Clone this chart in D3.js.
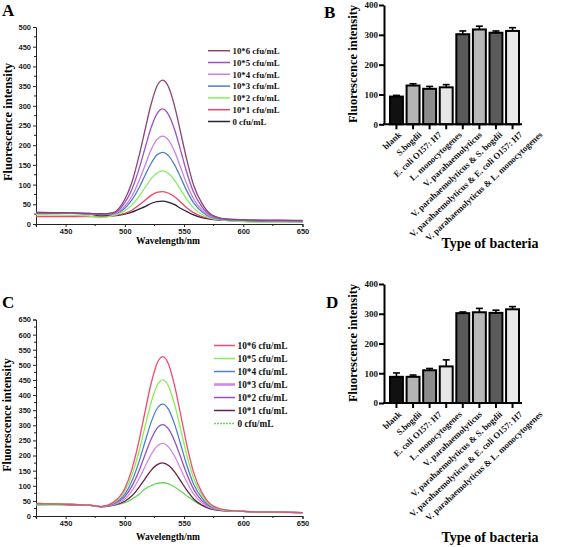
<!DOCTYPE html>
<html><head><meta charset="utf-8">
<script src="https://cdn.jsdelivr.net/npm/d3@7"></script>
<style>body{margin:0;background:#fff} svg{display:block}</style>
</head><body>
<svg id="c" width="567" height="547"></svg>
<script>
// ---------- data: spectra ----------
const wavelengths = [425,440,455,470,480,490,500,506,512,517,522,527,532,537,542,547,552,558,565,573,585,600,615,630,650];

const spectraLabels = ["10*6 cfu/mL","10*5 cfu/mL","10*4 cfu/mL","10*3 cfu/mL","10*2 cfu/mL","10*1 cfu/mL","0 cfu/mL"];

// Panel A
const a_e6 = [29,29,28,27,26,29,63,106,173,238,302,349,365,347,299,234,167,99,53,24,13,11,10,10,9];
const a_e5 = [30,29,28,27,25,27,54,88,140,192,243,279,292,277,240,188,134,81,44,21,12,10,9,9,8];
const a_e4 = [28,28,27,26,24,26,45,71,110,148,187,214,223,212,184,144,104,64,36,18,12,10,9,8,8];
const a_e3 = [27,28,27,26,23,25,40,61,92,123,153,175,182,173,150,119,86,54,31,17,11,9,8,8,7];
const a_e2 = [24,23,22,20,16,21,34,48,70,92,114,129,135,128,111,88,64,41,24,14,9,6,5,5,5];
const a_e1 = [19,19,19,19,18,21,27,35,48,60,72,80,82,78,69,56,42,29,19,13,10,9,8,8,7];
const a_e0 = [26,27,27,25,21,21,25,30,38,44,52,57,58,55,49,40,32,23,16,12,9,7,6,6,5];

// Panel C
const c_e6 = [41,40,38,36,31,45,91,155,249,344,435,503,527,501,431,338,241,145,78,37,20,15,13,13,11];
const c_e5 = [40,40,38,36,31,43,82,136,215,295,373,430,450,428,369,289,207,126,69,34,19,15,13,13,11];
const c_e4 = [39,39,37,35,30,40,72,116,180,245,308,354,370,352,304,239,172,106,60,31,19,15,13,13,11];
const c_e3 = [39,40,38,36,31,37,56,83,123,163,202,230,240,228,198,157,115,73,44,26,18,15,13,13,11];
const c_e2 = [40,41,38,36,31,39,64,99,150,202,252,289,302,287,248,196,142,89,51,28,18,15,13,13,11];
const c_e1 = [42,40,38,36,31,35,49,67,95,123,150,169,176,167,146,117,87,57,36,23,17,15,13,13,11];
const c_e0 = [36,37,36,35,31,35,44,56,72,89,100,108,110,106,96,83,68,51,36,24,17,15,13,13,11];

const spectraXTicks = [450,500,550,600,650];
const aYTicks = [0,50,100,150,200,250,300,350,400,450,500];
const cYTicks = [0,50,100,150,200,250,300,350,400,450,500,550,600,650];

// ---------- data: bars ----------
const categories = ["blank","S.bogdii","E. coli O157: H7","L. monocytogenes","V. parahaemolyticus",
  "V. parahaemolyticus & S. bogdii","V. parahaemolyticus & E. coli O157: H7","V. parahaemolyticus & L. monocytogenes"];
const b_values = [93,130,119,124,302,318,307,313];
const b_errors = [4,6,8,9,11,11,6,11];
const d_values = [88,88,110,123,302,305,303,315];
const d_errors = [13,6,6,22,4,13,9,9];
const barYTicks = [0,100,200,300,400];

// ---------- styles ----------
const aColors = ["#8a4470","#9a52c4","#c880e0","#4d7fc6","#84f060","#ee4468","#23233f"];
const cColors = ["#f04c72","#86f052","#5080cc","#cf8ce2","#9252c2","#6a2048","#66d855"];
const barFills = ["#111111","#b4b4b4","#8c8c8c","#e6e6e6","#595959","#b8b8b8","#5a5a5a","#e9e9e9"];

const SERIF = "'Liberation Serif','Times New Roman',serif";
const SANS = "'Liberation Sans',Arial,sans-serif";
const svg = d3.select("#c");

function panelLetter(t, x, y) {
  svg.append("text").attr("x", x).attr("y", y).text(t)
    .attr("font-family", SERIF).attr("font-weight", "bold").attr("font-size", 17);
}

function drawSpectrum(o) {
  const x = d3.scaleLinear().domain([425, 650]).range([36, 302.5]);
  const y = d3.scaleLinear().domain(o.yDomain).range(o.yRange);
  const g = svg.append("g");
  const yAxis = d3.axisLeft(y).tickValues(o.yTicks).tickSize(3).tickPadding(2);
  const ya = g.append("g").attr("transform", `translate(${x.range()[0]},0)`).call(yAxis);
  const minorY = d3.range(o.yDomain[0] + 25, o.yDomain[1], 50);
  ya.selectAll(".mn").data(minorY).enter().append("line")
    .attr("x1", 0).attr("x2", -2).attr("y1", d => y(d)).attr("y2", d => y(d)).attr("stroke", "#222");
  const xAxis = d3.axisBottom(x).tickValues(o.xTicks).tickSize(3).tickPadding(2);
  const xa = g.append("g").attr("transform", `translate(0,${o.yRange[0]})`).call(xAxis);
  const minorX = [425,475,525,575,625];
  xa.selectAll(".mn").data(minorX).enter().append("line")
    .attr("x1", d => x(d)).attr("x2", d => x(d)).attr("y1", 0).attr("y2", 2).attr("stroke", "#222");
  [ya, xa].forEach(a => {
    a.select(".domain").attr("stroke", "#222").attr("stroke-width", 1);
    a.selectAll(".tick line").attr("stroke", "#222");
    a.selectAll("text").attr("font-family", SANS).attr("font-weight", "bold")
      .attr("font-size", 7.5).attr("fill", "#222");
  });
  const line = d3.line().x((d, i) => x(wavelengths[i])).y(d => y(d)).curve(d3.curveMonotoneX);
  const order = o.series.map((s, i) => i).reverse();
  order.forEach(i => {
    g.append("path").datum(o.series[i]).attr("d", line).attr("fill", "none")
      .attr("stroke", o.colors[i]).attr("stroke-width", 1.3);
  });
  const lg = g.append("g");
  spectraLabels.forEach((lab, i) => {
    const yy = o.legY + i * o.legStep;
    lg.append("line").attr("x1", o.legX).attr("x2", o.legX + o.legLen).attr("y1", yy).attr("y2", yy)
      .attr("stroke", o.colors[i]).attr("stroke-width", o.legW && o.legW[i] ? o.legW[i] : 1.5)
      .attr("stroke-dasharray", o.dashed && o.dashed[i] ? "2,1" : null);
    lg.append("text").attr("x", o.legX + o.legLen + 2.5).attr("y", yy + 3.2).text(lab)
      .attr("font-family", SERIF).attr("font-weight", "bold").attr("font-size", o.legFont).attr("fill", "#111");
  });
  g.append("text").attr("transform", `translate(${o.yTitleX},${o.yTitleY}) rotate(-90)`)
    .attr("text-anchor", "middle").text("Fluorescence intensity")
    .attr("font-family", SERIF).attr("font-weight", "bold").attr("font-size", o.yTitleFont);
  g.append("text").attr("x", 168).attr("y", o.xTitleY).attr("text-anchor", "middle").text("Wavelength/nm")
    .attr("font-family", SERIF).attr("font-weight", "bold").attr("font-size", 9.5);
}

function drawBars(o) {
  const x = d3.scaleBand().domain(categories).range([389, 520]).paddingInner(0.1).paddingOuter(0);
  const labelX = d3.scalePoint().domain(categories).range([402, 543]);
  const y = d3.scaleLinear().domain([0, 400]).range(o.yRange);
  const g = svg.append("g");
  g.selectAll(".bar").data(o.values).enter().append("rect")
    .attr("x", (d, i) => x(categories[i]) + 1)
    .attr("width", x.bandwidth() - 2)
    .attr("y", d => y(d))
    .attr("height", d => y(0) - y(d))
    .attr("fill", (d, i) => barFills[i]).attr("stroke", "#000").attr("stroke-width", 2);
  o.values.forEach((v, i) => {
    const cx = x(categories[i]) + x.bandwidth() / 2;
    g.append("line").attr("x1", cx).attr("x2", cx).attr("y1", y(v)).attr("y2", y(v + o.errors[i]))
      .attr("stroke", "#000").attr("stroke-width", 1.6);
    g.append("line").attr("x1", cx - 3.5).attr("x2", cx + 3.5).attr("y1", y(v + o.errors[i])).attr("y2", y(v + o.errors[i]))
      .attr("stroke", "#000").attr("stroke-width", 1.6);
  });
  const ya = g.append("g").attr("transform", `translate(384,0)`)
    .call(d3.axisLeft(y).tickValues(barYTicks).tickSize(5).tickPadding(1).tickSizeOuter(0));
  ya.select(".domain").attr("stroke", "#000").attr("stroke-width", 2);
  ya.selectAll(".tick line").attr("stroke", "#000").attr("stroke-width", 2);
  ya.selectAll("text").attr("font-family", SERIF).attr("font-weight", "bold").attr("font-size", 9).attr("fill", "#111");
  g.append("line").attr("x1", 383).attr("x2", 522).attr("y1", y(0)).attr("y2", y(0))
    .attr("stroke", "#000").attr("stroke-width", 2);
  categories.forEach(c => {
    const cx = x(c) + x.bandwidth() / 2;
    g.append("line").attr("x1", cx).attr("x2", cx).attr("y1", y(0)).attr("y2", y(0) + 5)
      .attr("stroke", "#000").attr("stroke-width", 2);
  });
  categories.forEach(c => {
    g.append("text").attr("transform", `translate(${labelX(c)},${y(0) + o.labDy}) rotate(-43)`)
      .attr("text-anchor", "end").text(c)
      .attr("font-family", SERIF).attr("font-weight", "bold").attr("font-size", 8.8).attr("fill", "#111");
  });
  g.append("text").attr("transform", `translate(357,${o.yTitleY}) rotate(-90)`)
    .attr("text-anchor", "middle").text("Fluorescence intensity")
    .attr("font-family", SERIF).attr("font-weight", "bold").attr("font-size", 12.5);
  g.append("text").attr("x", 490).attr("y", o.xTitleY).attr("text-anchor", "middle").text("Type of bacteria")
    .attr("font-family", SERIF).attr("font-weight", "bold").attr("font-size", 14);
}

drawSpectrum({
  series: [a_e6, a_e5, a_e4, a_e3, a_e2, a_e1, a_e0], colors: aColors,
  yDomain: [0, 500], yRange: [224, 27], yTicks: aYTicks, xTicks: spectraXTicks,
  legX: 208, legY: 50.7, legStep: 11.8, legLen: 22, legFont: 8.8,
  yTitleX: 12, yTitleY: 122, yTitleFont: 12.5, xTitleY: 244
});
drawSpectrum({
  series: [c_e6, c_e5, c_e4, c_e3, c_e2, c_e1, c_e0], colors: cColors,
  dashed: [false, false, false, false, false, false, true],
  legW: [1.5, 1.5, 1.5, 2.6, 1.5, 1.5, 1.5],
  yDomain: [0, 650], yRange: [516, 319.5], yTicks: cYTicks, xTicks: spectraXTicks,
  legX: 214, legY: 345.5, legStep: 13, legLen: 21, legFont: 9.3,
  yTitleX: 11, yTitleY: 415, yTitleFont: 12, xTitleY: 540
});
drawBars({ values: b_values, errors: b_errors, yRange: [124.3, 5], labDy: 11, yTitleY: 64, xTitleY: 248 });
drawBars({ values: d_values, errors: d_errors, yRange: [403, 284], labDy: 12, yTitleY: 343, xTitleY: 542 });

panelLetter("A", 2, 16);
panelLetter("B", 324, 18);
panelLetter("C", 2, 308);
panelLetter("D", 326, 308);
</script>
</body></html>
